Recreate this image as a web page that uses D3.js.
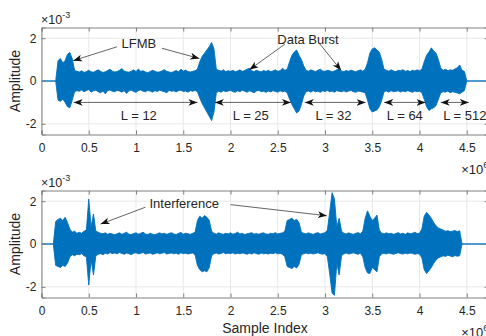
<!DOCTYPE html>
<html><head><meta charset="utf-8">
<script src="https://cdn.jsdelivr.net/npm/d3@7"></script>
<style>
body{margin:0;background:#fff;overflow:hidden}
svg{display:block}
text{font-family:"Liberation Sans",Arial,Helvetica,sans-serif;fill:#262626}
</style></head>
<body><svg id="chart" width="486" height="336"></svg>
<script>
// ---------- data (sample index in units of 1e6, amplitude in units of 1e-3) ----------
const sampleStep = 0.025;          // envelope sampling step (x 1e6 samples)
const xDomainMax = 4.73;
const xTicks = [0, 0.5, 1, 1.5, 2, 2.5, 3, 3.5, 4, 4.5];
const xTickLabels = ["0", "0.5", "1", "1.5", "2", "2.5", "3", "3.5", "4", "4.5"];
const yTicks = [-2, 0, 2];
const yTickLabels = ["-2", "0", "2"];

// upper / lower envelope of the received signal, top panel
const topUpper = [
  0,0,0,0,0,0,0,0.95,                      // 0.000
  1.05,0.85,0.95,1.25,1.33,1.05,0.5,0.45,  // 0.200
  0.42,0.48,0.4,0.44,0.5,0.43,0.41,0.47,   // 0.400
  0.52,0.45,0.4,0.43,0.49,0.55,0.46,0.42,  // 0.600
  0.44,0.5,0.58,0.47,0.43,0.41,0.46,0.52,  // 0.800
  0.44,0.56,0.45,0.48,0.42,0.39,0.44,0.5,  // 1.000
  0.46,0.41,0.43,0.47,0.53,0.45,0.42,0.4,  // 1.200
  0.44,0.49,0.43,0.55,0.46,0.51,0.44,0.42, // 1.400
  0.45,0.48,0.55,0.9,1.15,1.3,1.45,1.6,    // 1.600
  1.8,1.5,0.55,0.5,0.46,0.52,0.44,0.48,    // 1.800
  0.45,0.5,0.43,0.47,0.52,0.45,0.49,0.55,  // 2.000
  0.6,0.48,0.44,0.5,0.46,0.43,0.49,0.45,   // 2.200
  0.5,0.44,0.47,0.52,0.45,0.48,0.6,0.5,    // 2.400
  0.55,0.9,1.2,1.35,1.45,1.2,1.0,0.7,      // 2.600
  0.5,0.46,0.52,0.48,0.44,0.5,0.55,0.47,   // 2.800
  0.45,0.5,0.48,0.43,0.47,0.52,0.58,0.46,  // 3.000
  0.44,0.49,0.45,0.51,0.47,0.43,0.48,0.52, // 3.200
  0.46,0.55,0.85,1.3,1.5,1.55,1.45,1.35,   // 3.400
  1.0,0.55,0.5,0.46,0.52,0.47,0.44,0.5,    // 3.600
  0.48,0.53,0.45,0.49,0.44,0.5,0.47,0.52,  // 3.800
  0.48,0.55,0.9,1.2,1.35,1.55,1.4,1.3,     // 4.000
  1.0,0.6,0.5,0.55,0.48,0.52,0.5,0.56,     // 4.200
  0.62,0.75,0.5,0.45,0,0,0,0,              // 4.400
  0,0,0,0,0,0,0,0,                         // 4.600
  0                                        // 4.800
];
const topLower = [
  0,0,0,0,0,0,0,-0.9,
  -0.95,-0.85,-1.0,-1.2,-1.25,-0.9,-0.5,-0.45,
  -0.48,-0.42,-0.5,-0.45,-0.4,-0.52,-0.46,-0.43,
  -0.5,-0.55,-0.47,-0.6,-0.45,-0.42,-0.48,-0.5,
  -0.44,-0.47,-0.52,-0.45,-0.58,-0.46,-0.43,-0.49,
  -0.53,-0.45,-0.42,-0.48,-0.5,-0.44,-0.47,-0.52,
  -0.45,-0.49,-0.43,-0.47,-0.5,-0.55,-0.44,-0.48,
  -0.46,-0.51,-0.45,-0.43,-0.49,-0.47,-0.52,-0.45,
  -0.48,-0.44,-0.5,-0.8,-1.05,-1.25,-1.45,-1.65,
  -1.85,-1.45,-0.55,-0.48,-0.52,-0.45,-0.5,-0.47,
  -0.44,-0.49,-0.53,-0.46,-0.5,-0.43,-0.48,-0.52,
  -0.46,-0.5,-0.55,-0.47,-0.44,-0.5,-0.48,-0.53,
  -0.47,-0.51,-0.45,-0.49,-0.52,-0.46,-0.5,-0.48,
  -0.55,-0.85,-1.1,-1.3,-1.5,-1.4,-1.1,-0.7,
  -0.5,-0.47,-0.52,-0.45,-0.5,-0.48,-0.53,-0.46,
  -0.49,-0.44,-0.5,-0.47,-0.52,-0.45,-0.48,-0.5,
  -0.46,-0.51,-0.47,-0.44,-0.5,-0.53,-0.47,-0.49,
  -0.52,-0.55,-0.9,-1.3,-1.45,-1.4,-1.35,-1.2,
  -0.9,-0.5,-0.47,-0.52,-0.45,-0.5,-0.48,-0.46,
  -0.51,-0.47,-0.5,-0.45,-0.49,-0.53,-0.47,-0.5,
  -0.48,-0.55,-0.85,-1.2,-1.38,-1.3,-1.25,-1.15,
  -0.85,-0.55,-0.5,-0.52,-0.47,-0.55,-0.5,-0.53,
  -0.56,-0.6,-0.52,-0.45,0,0,0,0,
  0,0,0,0,0,0,0,0,
  0
];

// upper / lower envelope of the received signal with interference, bottom panel
const bottomUpper = [
  0,0,0,0,0,0,1.05,1.15,
  1.2,1.1,1.25,1.0,0.7,0.55,0.6,0.5,
  0.55,0.5,0.6,0.65,2.1,0.8,1.4,0.6,
  0.55,0.5,0.48,0.52,0.45,0.5,0.47,0.43,
  0.48,0.52,0.45,0.5,0.55,0.46,0.44,0.49,
  0.52,0.46,0.5,0.55,0.47,0.44,0.5,0.46,
  0.43,0.48,0.52,0.47,0.5,0.45,0.49,0.53,
  0.47,0.44,0.5,0.54,0.46,0.5,0.48,0.45,
  0.5,0.55,1.1,1.3,1.2,1.33,1.25,1.1,
  0.6,0.5,0.46,0.52,0.48,0.45,0.5,0.47,
  0.52,0.46,0.49,0.55,0.47,0.5,0.44,0.48,
  0.5,0.53,0.46,0.49,0.45,0.5,0.52,0.47,
  0.45,0.5,0.48,0.53,0.47,0.5,0.52,0.6,
  1.1,1.15,1.2,1.1,1.15,1.0,0.55,0.5,
  0.47,0.52,0.48,0.45,0.5,0.53,0.47,0.5,
  0.52,0.65,1.5,2.4,2.1,0.8,1.2,0.6,
  0.5,0.47,0.52,0.48,0.45,0.5,0.53,0.48,
  0.6,1.2,1.55,1.3,1.1,1.2,1.35,0.65,
  0.5,0.47,0.52,0.48,0.5,0.45,0.49,0.53,
  0.47,0.5,0.45,0.52,0.48,0.5,0.55,0.49,
  0.5,0.7,1.3,1.48,1.35,1.2,1.0,0.85,
  0.75,0.7,0.65,0.6,0.62,0.58,0.6,0.63,
  0.58,0.62,0,0,0,0,0,0,
  0,0,0,0,0,0,0,0,
  0
];
const bottomLower = [
  0,0,0,0,0,0,-1.0,-1.05,
  -1.1,-1.0,-1.05,-0.9,-0.6,-0.5,-0.55,-0.48,
  -0.5,-0.45,-0.55,-0.6,-1.92,-0.75,-1.45,-0.55,
  -0.48,-0.45,-0.5,-0.43,-0.47,-0.4,-0.45,-0.42,
  -0.46,-0.4,-0.44,-0.48,-0.42,-0.45,-0.5,-0.43,
  -0.41,-0.46,-0.43,-0.4,-0.47,-0.44,-0.42,-0.48,
  -0.45,-0.41,-0.46,-0.43,-0.4,-0.47,-0.44,-0.42,
  -0.46,-0.43,-0.48,-0.41,-0.45,-0.43,-0.47,-0.44,
  -0.42,-0.5,-1.0,-1.2,-1.3,-1.25,-1.3,-1.1,
  -0.55,-0.45,-0.42,-0.47,-0.44,-0.4,-0.46,-0.43,
  -0.45,-0.41,-0.47,-0.43,-0.46,-0.42,-0.44,-0.48,
  -0.43,-0.47,-0.41,-0.45,-0.48,-0.42,-0.46,-0.44,
  -0.47,-0.43,-0.45,-0.41,-0.46,-0.44,-0.48,-0.6,
  -1.05,-1.1,-1.15,-1.05,-1.12,-0.95,-0.5,-0.45,
  -0.42,-0.46,-0.43,-0.47,-0.44,-0.41,-0.45,-0.48,
  -0.44,-0.6,-1.4,-2.3,-2.4,-0.9,-1.45,-0.55,
  -0.46,-0.42,-0.47,-0.44,-0.41,-0.45,-0.48,-0.43,
  -0.6,-1.1,-1.35,-1.38,-1.1,-1.2,-1.3,-0.6,
  -0.46,-0.43,-0.47,-0.42,-0.45,-0.48,-0.44,-0.41,
  -0.45,-0.47,-0.43,-0.46,-0.42,-0.44,-0.48,-0.45,
  -0.47,-0.65,-1.2,-1.38,-1.25,-1.1,-0.9,-0.75,
  -0.65,-0.6,-0.55,-0.58,-0.52,-0.56,-0.6,-0.54,
  -0.57,-0.55,0,0,0,0,0,0,
  0,0,0,0,0,0,0,0,
  0
];

// annotations (data coordinates)
const topTexts = [
  {t: "LFMB", x: 1.03, y: 1.75},
  {t: "Data Burst", x: 2.82, y: 1.97}
];
const topArrows = [
  {x1: 0.80, y1: 1.60, x2: 0.335, y2: 0.95},
  {x1: 1.275, y1: 1.53, x2: 1.67, y2: 1.05},
  {x1: 2.575, y1: 1.72, x2: 2.20, y2: 0.53},
  {x1: 2.94, y1: 1.76, x2: 3.17, y2: 0.50}
];
const spanArrows = [
  {x1: 0.34, x2: 1.65, label: "L = 12", lx: 1.03},
  {x1: 1.834, x2: 2.64, label: "L = 25", lx: 2.215},
  {x1: 2.786, x2: 3.43, label: "L = 32", lx: 3.09},
  {x1: 3.626, x2: 4.064, label: "L = 64", lx: 3.845},
  {x1: 4.225, x2: 4.522, label: "L = 512", lx: 4.48}
];
const spanY = -1.0, spanLabelY = -1.6;
const bottomTexts = [{t: "Interference", x: 1.51, y: 1.9}];
const bottomArrows = [
  {x1: 1.10, y1: 1.72, x2: 0.625, y2: 0.93},
  {x1: 2.0, y1: 1.84, x2: 3.02, y2: 1.32}
];

// ---------- drawing ----------
const svg = d3.select("#chart");
const left = 41.5, right = 41.5 + xDomainMax * 94.5;
const x = d3.scaleLinear().domain([0, xDomainMax]).range([left, right]);
const BLUE = "#0072BD";

const defs = svg.append("defs");
defs.append("marker").attr("id", "ah").attr("markerUnits", "userSpaceOnUse")
  .attr("markerWidth", 12).attr("markerHeight", 10).attr("refX", 9).attr("refY", 4)
  .attr("orient", "auto-start-reverse").attr("viewBox", "0 0 12 8")
  .append("path").attr("d", "M0,0.6 L9,4 L0,7.4 L2.4,4 Z").attr("fill", "#111");

function panel(top, bottom, upper, lower, clipId) {
  const y = d3.scaleLinear().domain([-2.5, 2.5]).range([bottom, top]);
  const g = svg.append("g");
  defs.append("clipPath").attr("id", clipId).append("rect")
    .attr("x", left).attr("y", top).attr("width", right - left).attr("height", bottom - top);
  // grid
  g.selectAll(".gx").data(xTicks).join("line")
    .attr("x1", d => x(d)).attr("x2", d => x(d)).attr("y1", top).attr("y2", bottom)
    .attr("stroke", "#e8e8e8").attr("stroke-width", 1);
  g.selectAll(".gy").data(yTicks).join("line")
    .attr("x1", left).attr("x2", right).attr("y1", d => y(d)).attr("y2", d => y(d))
    .attr("stroke", "#e8e8e8").attr("stroke-width", 1);
  // signal envelope
  const idx = d3.range(upper.length);
  const area = d3.area().x(i => x(i * sampleStep)).y0(i => y(lower[i])).y1(i => y(upper[i]));
  g.append("path").datum(idx).attr("d", area).attr("clip-path", `url(#${clipId})`)
    .attr("fill", BLUE).attr("stroke", BLUE).attr("stroke-width", 0.9).attr("stroke-linejoin", "round");
  // axes
  const ax = g.append("g").attr("transform", `translate(0,${bottom})`)
    .call(d3.axisBottom(x).tickValues(xTicks).tickFormat((d, i) => xTickLabels[i]).tickSize(-4).tickPadding(8.5));
  const axTop = g.append("g").attr("transform", `translate(0,${top})`)
    .call(d3.axisTop(x).tickValues(xTicks).tickFormat("").tickSize(-4));
  const ay = g.append("g").attr("transform", `translate(${left},0)`)
    .call(d3.axisLeft(y).tickValues(yTicks).tickFormat((d, i) => yTickLabels[i]).tickSize(-4).tickPadding(5));
  const ayR = g.append("g").attr("transform", `translate(${right},0)`)
    .call(d3.axisRight(y).tickValues(yTicks).tickFormat("").tickSize(-4));
  [ax, axTop, ay, ayR].forEach(a => {
    a.select(".domain").attr("stroke", "#808080");
    a.selectAll(".tick line").attr("stroke", "#808080");
    a.selectAll("text").attr("font-size", 12).attr("fill", "#262626")
      .attr("font-family", '"Liberation Sans",Arial,sans-serif');
  });
  // exponent labels
  const e1 = g.append("text").attr("x", left - 0.5).attr("y", top - 3.5).attr("font-size", 12.5);
  e1.append("tspan").text("\u00d710");
  e1.append("tspan").attr("dy", -6).attr("font-size", 9).text("-3");
  const e2 = g.append("text").attr("x", right).attr("y", bottom + 39.5).attr("font-size", 13)
    .attr("text-anchor", "end");
  e2.append("tspan").text("\u00d710");
  e2.append("tspan").attr("dy", -6).attr("font-size", 9.5).text("6");
  // y label
  g.append("text").attr("transform", `translate(19.5,${(top + bottom) / 2}) rotate(-90)`)
    .attr("text-anchor", "middle").attr("font-size", 14).text("Amplitude");
  return y;
}

function arrows(y, list) {
  svg.append("g").selectAll("line").data(list).join("line")
    .attr("x1", d => x(d.x1)).attr("y1", d => y(d.y1)).attr("x2", d => x(d.x2)).attr("y2", d => y(d.y2))
    .attr("stroke", "#222").attr("stroke-width", 0.7).attr("marker-end", "url(#ah)");
}
function texts(y, list) {
  svg.append("g").selectAll("text").data(list).join("text")
    .attr("x", d => x(d.x)).attr("y", d => y(d.y)).attr("dy", "0.36em")
    .attr("text-anchor", "middle").attr("font-size", 13).attr("fill", "#000").text(d => d.t);
}

const yTop = panel(27.5, 134.5, topUpper, topLower, "clipTop");
texts(yTop, topTexts);
arrows(yTop, topArrows);
svg.append("g").selectAll("line").data(spanArrows).join("line")
  .attr("x1", d => x(d.x1)).attr("x2", d => x(d.x2)).attr("y1", yTop(spanY)).attr("y2", yTop(spanY))
  .attr("stroke", "#222").attr("stroke-width", 0.7)
  .attr("marker-start", "url(#ah)").attr("marker-end", "url(#ah)");
svg.append("g").selectAll("text").data(spanArrows).join("text")
  .attr("x", d => x(d.lx)).attr("y", yTop(spanLabelY)).attr("dy", "0.36em")
  .attr("text-anchor", "middle").attr("font-size", 13).attr("fill", "#000").text(d => d.label);

const yBot = panel(190.5, 297.5, bottomUpper, bottomLower, "clipBot");
texts(yBot, bottomTexts);
arrows(yBot, bottomArrows);

svg.append("text").attr("x", 265).attr("y", 332.5).attr("text-anchor", "middle")
  .attr("font-size", 14).text("Sample Index");
</script>
</body></html>
